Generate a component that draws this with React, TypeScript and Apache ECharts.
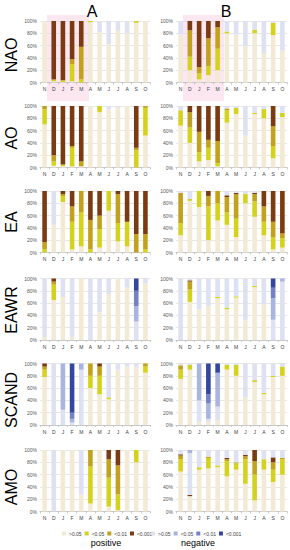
import React, { useEffect, useRef } from "react";
import * as echarts from "echarts";

const MONTHS = ["N", "D", "J", "F", "M", "A", "M", "J", "J", "A", "S", "O"];
const INDICES = ["NAO", "AO", "EA", "EAWR", "SCAND", "AMO"];
const PHASES = ["A", "B"];
const SERIES_NAMES = [">0.05", "<0.05", "<0.01", "<0.001", ">0.05 ", "<0.05 ", "<0.01 ", "<0.001 "];
const SIGN_LABELS = ["positive", "negative"];

// each bar: [pos n.s., pos <0.05, pos <0.01, pos <0.001, neg n.s., neg <0.05, neg <0.01, neg <0.001] (%)
const NAO_A = [
  [100, 0, 0, 0, 0, 0, 0, 0], [2, 3, 0, 95, 0, 0, 0, 0], [1, 2, 1, 96, 0, 0, 0, 0], [2, 28, 8, 62, 0, 0, 0, 0],
  [0, 5, 53, 42, 0, 0, 0, 0], [98, 2, 0, 0, 0, 0, 0, 0], [82, 0, 0, 0, 18, 0, 0, 0], [62, 0, 0, 0, 38, 0, 0, 0],
  [85, 0, 0, 0, 15, 0, 0, 0], [80, 0, 0, 0, 20, 0, 0, 0], [97, 3, 0, 0, 0, 0, 0, 0], [100, 0, 0, 0, 0, 0, 0, 0],
];
const NAO_B = [
  [78, 0, 0, 0, 22, 0, 0, 0], [20, 22, 43, 15, 0, 0, 0, 0], [5, 10, 10, 75, 0, 0, 0, 0], [12, 15, 45, 28, 0, 0, 0, 0],
  [20, 35, 35, 10, 0, 0, 0, 0], [80, 3, 0, 0, 17, 0, 0, 0], [78, 0, 0, 0, 22, 0, 0, 0], [60, 0, 0, 0, 40, 0, 0, 0],
  [80, 6, 0, 0, 14, 0, 0, 0], [48, 0, 0, 0, 52, 0, 0, 0], [77, 20, 0, 0, 3, 0, 0, 0], [52, 0, 0, 0, 48, 0, 0, 0],
];
const AO_A = [
  [70, 25, 5, 0, 0, 0, 0, 0], [3, 7, 10, 80, 0, 0, 0, 0], [2, 3, 0, 95, 0, 0, 0, 0], [2, 30, 3, 65, 0, 0, 0, 0],
  [2, 0, 8, 90, 0, 0, 0, 0], [100, 0, 0, 0, 0, 0, 0, 0], [90, 10, 0, 0, 0, 0, 0, 0], [95, 0, 0, 0, 5, 0, 0, 0],
  [97, 0, 0, 0, 3, 0, 0, 0], [100, 0, 0, 0, 0, 0, 0, 0], [0, 28, 4, 68, 0, 0, 0, 0], [52, 45, 3, 0, 0, 0, 0, 0],
];
const AO_B = [
  [68, 25, 0, 0, 7, 0, 0, 0], [40, 25, 25, 10, 0, 0, 0, 0], [10, 15, 33, 42, 0, 0, 0, 0], [12, 20, 13, 55, 0, 0, 0, 0],
  [2, 5, 36, 57, 0, 0, 0, 0], [73, 20, 3, 0, 4, 0, 0, 0], [87, 10, 0, 0, 3, 0, 0, 0], [52, 0, 0, 0, 48, 0, 0, 0],
  [87, 2, 0, 0, 11, 0, 0, 0], [80, 15, 0, 0, 5, 0, 0, 0], [15, 20, 32, 33, 0, 0, 0, 0], [82, 7, 0, 0, 11, 0, 0, 0],
];
const EA_A = [
  [0, 5, 12, 83, 0, 0, 0, 0], [45, 0, 0, 0, 55, 0, 0, 0], [82, 10, 3, 5, 0, 0, 0, 0], [5, 45, 25, 25, 0, 0, 0, 0],
  [10, 55, 35, 0, 0, 0, 0, 0], [0, 5, 48, 47, 0, 0, 0, 0], [8, 30, 22, 40, 0, 0, 0, 0], [68, 32, 0, 0, 0, 0, 0, 0],
  [18, 30, 47, 5, 0, 0, 0, 0], [10, 40, 0, 50, 0, 0, 0, 0], [0, 0, 30, 70, 0, 0, 0, 0], [0, 5, 25, 70, 0, 0, 0, 0],
];
const EA_B = [
  [28, 20, 49, 0, 3, 0, 0, 0], [84, 3, 0, 0, 13, 0, 0, 0], [74, 26, 0, 0, 0, 0, 0, 0], [20, 55, 17, 8, 0, 0, 0, 0],
  [52, 28, 20, 0, 0, 0, 0, 0], [45, 20, 25, 3, 7, 0, 0, 0], [25, 30, 40, 2, 3, 0, 0, 0], [80, 15, 0, 0, 5, 0, 0, 0],
  [58, 25, 12, 2, 3, 0, 0, 0], [28, 22, 25, 25, 0, 0, 0, 0], [5, 20, 25, 50, 0, 0, 0, 0], [8, 15, 8, 69, 0, 0, 0, 0],
];
const EAWR_A = [
  [5, 0, 0, 0, 95, 0, 0, 0], [65, 25, 5, 5, 0, 0, 0, 0], [70, 0, 0, 0, 30, 0, 0, 0], [5, 0, 0, 0, 95, 0, 0, 0],
  [100, 0, 0, 0, 0, 0, 0, 0], [0, 0, 0, 0, 100, 0, 0, 0], [45, 0, 0, 0, 55, 0, 0, 0], [75, 0, 0, 0, 25, 0, 0, 0],
  [100, 0, 0, 0, 0, 0, 0, 0], [85, 0, 0, 0, 15, 0, 0, 0], [0, 0, 0, 0, 30, 25, 25, 20], [92, 0, 0, 0, 8, 0, 0, 0],
];
const EAWR_B = [
  [0, 0, 0, 0, 100, 0, 0, 0], [62, 20, 13, 2, 3, 0, 0, 0], [50, 0, 0, 0, 50, 0, 0, 0], [55, 0, 0, 0, 45, 0, 0, 0],
  [68, 2, 0, 0, 30, 0, 0, 0], [50, 2, 0, 0, 48, 0, 0, 0], [69, 2, 0, 0, 29, 0, 0, 0], [32, 0, 0, 0, 68, 0, 0, 0],
  [86, 2, 0, 0, 12, 0, 0, 0], [58, 0, 0, 0, 42, 0, 0, 0], [0, 0, 0, 0, 33, 35, 17, 15], [0, 0, 0, 0, 95, 5, 0, 0],
];
const SCAND_A = [
  [78, 12, 5, 5, 0, 0, 0, 0], [0, 0, 0, 0, 100, 0, 0, 0], [0, 0, 0, 0, 25, 75, 0, 0], [0, 0, 0, 0, 4, 6, 10, 80],
  [0, 0, 0, 0, 90, 10, 0, 0], [60, 20, 20, 0, 0, 0, 0, 0], [50, 30, 15, 5, 0, 0, 0, 0], [42, 3, 0, 0, 55, 0, 0, 0],
  [90, 0, 0, 0, 10, 0, 0, 0], [95, 0, 0, 0, 5, 0, 0, 0], [95, 0, 0, 0, 5, 0, 0, 0], [85, 10, 5, 0, 0, 0, 0, 0],
];
const SCAND_B = [
  [75, 15, 7, 0, 3, 0, 0, 0], [90, 8, 0, 0, 2, 0, 0, 0], [5, 0, 0, 0, 35, 60, 0, 0], [5, 0, 0, 0, 5, 25, 15, 50],
  [8, 0, 0, 0, 22, 55, 0, 15], [90, 8, 0, 0, 2, 0, 0, 0], [80, 18, 0, 0, 2, 0, 0, 0], [45, 0, 0, 0, 55, 0, 0, 0],
  [70, 3, 0, 0, 27, 0, 0, 0], [50, 2, 0, 0, 48, 0, 0, 0], [78, 2, 0, 0, 20, 0, 0, 0], [80, 15, 0, 0, 5, 0, 0, 0],
];
const AMO_A = [
  [100, 0, 0, 0, 0, 0, 0, 0], [0, 0, 0, 0, 100, 0, 0, 0], [100, 0, 0, 0, 0, 0, 0, 0], [100, 0, 0, 0, 0, 0, 0, 0],
  [28, 0, 0, 0, 72, 0, 0, 0], [13, 60, 27, 0, 0, 0, 0, 0], [100, 0, 0, 0, 0, 0, 0, 0], [8, 47, 30, 15, 0, 0, 0, 0],
  [2, 26, 47, 25, 0, 0, 0, 0], [100, 0, 0, 0, 0, 0, 0, 0], [80, 20, 0, 0, 0, 0, 0, 0], [100, 0, 0, 0, 0, 0, 0, 0],
];
const AMO_B = [
  [65, 20, 6, 2, 7, 0, 0, 0], [25, 0, 0, 2, 68, 5, 0, 0], [68, 4, 0, 0, 28, 0, 0, 0], [70, 17, 2, 0, 11, 0, 0, 0],
  [72, 3, 0, 0, 25, 0, 0, 0], [57, 25, 3, 2, 13, 0, 0, 0], [68, 10, 2, 0, 20, 0, 0, 0], [45, 40, 5, 2, 8, 0, 0, 0],
  [18, 42, 22, 18, 0, 0, 0, 0], [68, 17, 0, 0, 15, 0, 0, 0], [48, 20, 12, 8, 12, 0, 0, 0], [60, 25, 2, 0, 13, 0, 0, 0],
];

const PANELS = [
  [NAO_A, NAO_B], [AO_A, AO_B], [EA_A, EA_B], [EAWR_A, EAWR_B], [SCAND_A, SCAND_B], [AMO_A, AMO_B],
];

const COLORS = ["#F3EAD6", "#D5D21E", "#C2A21C", "#7A3A12", "#DDE1F1", "#A9B4DF", "#7382C4", "#34479E"];
const FONT = "'Liberation Sans', Arial, sans-serif";

const ROW_TOPS = [21, 106, 191, 278.5, 363.5, 450];
const ROW_LABEL_Y = [55, 138, 222, 310, 400, 487];
const PLOT_H = 61.5;
const COL_LEFTS = [40, 176];
const PLOT_W = [110, 111];

export default function App() {
  const ref = useRef<HTMLDivElement>(null);
  useEffect(() => {
    if (!ref.current) return;
    const chart = echarts.init(ref.current, undefined, { renderer: "svg" });
    const grid: any[] = [];
    const xAxis: any[] = [];
    const yAxis: any[] = [];
    const series: any[] = [];
    PANELS.forEach((row, r) => {
      row.forEach((panel, c) => {
        const i = grid.length;
        grid.push({ left: COL_LEFTS[c], top: ROW_TOPS[r], width: PLOT_W[c], height: PLOT_H, containLabel: false });
        xAxis.push({
          type: "category",
          gridIndex: i,
          data: MONTHS,
          axisLine: { lineStyle: { color: "#BFBFBF", width: 0.8 } },
          axisTick: { show: true, length: 2, lineStyle: { color: "#BFBFBF", width: 0.8 } },
          axisLabel: { fontSize: 5, color: "#404040", margin: 4, interval: 0, fontFamily: FONT },
        });
        yAxis.push({
          type: "value",
          gridIndex: i,
          min: 0,
          max: 100,
          interval: 20,
          axisLine: { show: false },
          axisTick: { show: false },
          axisLabel: { fontSize: 5, color: "#595959", margin: 3, formatter: "{value}%", fontFamily: FONT },
          splitLine: { lineStyle: { color: "#D9D9D9", width: 0.6 } },
        });
        SERIES_NAMES.forEach((name, s) => {
          series.push({
            type: "bar",
            name,
            stack: "p" + i,
            xAxisIndex: i,
            yAxisIndex: i,
            barWidth: "50%",
            data: panel.map((bar) => bar[s]),
            itemStyle: { color: COLORS[s] },
          });
        });
      });
    });

    const graphic: any[] = [
      { type: "rect", z: -10, shape: { x: 47, y: 15, width: 42, height: 86 }, style: { fill: "#FCE6F0" } },
      { type: "rect", z: -10, shape: { x: 183, y: 15, width: 41, height: 86 }, style: { fill: "#FCE6F0" } },
    ];
    PHASES.forEach((p, c) => {
      graphic.push({
        type: "text",
        x: c === 0 ? 92 : 226,
        y: 11,
        style: { text: p, fontSize: 16, fontFamily: FONT, fill: "#000", align: "center", verticalAlign: "middle" },
      });
    });
    INDICES.forEach((name, r) => {
      graphic.push({
        type: "text",
        x: 11,
        y: ROW_LABEL_Y[r],
        rotation: Math.PI / 2,
        style: { text: name, fontSize: 16, fontFamily: FONT, fill: "#000", align: "center", verticalAlign: "middle" },
      });
    });
    SIGN_LABELS.forEach((t, c) => {
      graphic.push({
        type: "text",
        x: c === 0 ? 106 : 198,
        y: 543,
        style: { text: t, fontSize: 9, fontFamily: FONT, fill: "#000", align: "center", verticalAlign: "middle" },
      });
    });

    const legendBase = {
      top: 531,
      itemWidth: 4,
      itemHeight: 4,
      itemGap: 3,
      padding: 0,
      icon: "rect",
      selectedMode: false,
      formatter: (n: string) => n.trim(),
      textStyle: { fontSize: 5, color: "#404040", fontFamily: FONT, padding: [0, 0, 0, -2] },
    };

    chart.setOption({
      animation: false,
      backgroundColor: "#fff",
      grid,
      xAxis,
      yAxis,
      series,
      graphic,
      legend: [
        { ...legendBase, left: 62, data: SERIES_NAMES.slice(0, 4) },
        { ...legendBase, left: 151, data: SERIES_NAMES.slice(4) },
      ],
    });
    return () => chart.dispose();
  }, []);
  return <div ref={ref} style={{ position: "fixed", left: 0, top: 0, width: 290, height: 550 }} />;
}
